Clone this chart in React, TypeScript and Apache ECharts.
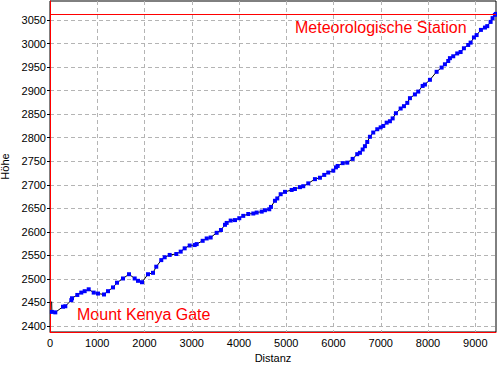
import React, { useEffect, useRef } from "react";
import * as echarts from "echarts";

const distances = [35, 40, 112, 275, 324, 451, 466, 578, 662, 734, 819, 925, 1016, 1143, 1227, 1333, 1418, 1545, 1672, 1792, 1862, 1947, 2074, 2180, 2249, 2355, 2427, 2533, 2673, 2766, 2850, 2956, 3062, 3104, 3231, 3316, 3400, 3527, 3618, 3703, 3739, 3824, 3915, 4006, 4090, 4196, 4302, 4374, 4480, 4549, 4640, 4676, 4761, 4810, 4882, 4973, 5114, 5184, 5290, 5360, 5466, 5607, 5713, 5804, 5889, 5995, 6052, 6088, 6195, 6291, 6405, 6502, 6560, 6617, 6665, 6714, 6771, 6841, 6926, 6998, 7053, 7125, 7194, 7252, 7321, 7421, 7491, 7561, 7618, 7723, 7793, 7886, 7935, 8041, 8182, 8288, 8358, 8428, 8464, 8534, 8618, 8690, 8760, 8851, 8902, 8972, 9029, 9120, 9205, 9254, 9325, 9367, 9416, 9439];
const elevations = [2452, 2430, 2429, 2441, 2442, 2455, 2459, 2466, 2471, 2474, 2478, 2471, 2469, 2467, 2474, 2482, 2492, 2501, 2510, 2501, 2496, 2493, 2510, 2513, 2526, 2540, 2546, 2551, 2553, 2558, 2565, 2571, 2572, 2574, 2581, 2586, 2588, 2598, 2604, 2615, 2619, 2624, 2625, 2629, 2634, 2638, 2639, 2641, 2643, 2646, 2648, 2653, 2666, 2671, 2680, 2685, 2689, 2691, 2695, 2697, 2703, 2712, 2715, 2721, 2726, 2730, 2737, 2740, 2746, 2747, 2755, 2765, 2768, 2775, 2782, 2791, 2802, 2811, 2818, 2822, 2825, 2832, 2835, 2841, 2852, 2862, 2867, 2874, 2884, 2892, 2898, 2910, 2913, 2923, 2940, 2949, 2956, 2963, 2969, 2973, 2979, 2982, 2990, 2997, 3002, 3013, 3018, 3029, 3034, 3037, 3046, 3054, 3061, 3063];

const xTicks = [0, 1000, 2000, 3000, 4000, 5000, 6000, 7000, 8000, 9000];
const yTicks = [2400, 2450, 2500, 2550, 2600, 2650, 2700, 2750, 2800, 2850, 2900, 2950, 3000, 3050];

const maxElevation = 3063;
const startLabel = "Mount Kenya Gate";
const endLabel = "Meteorologische Station";

export default function App() {
  const ref = useRef<HTMLDivElement>(null);
  useEffect(() => {
    document.body.style.margin = "0";
    const chart = echarts.init(ref.current!, null, { renderer: "svg" });
    const font = "Arial, 'Liberation Sans', sans-serif";
    const data = distances.map((d, i) =>
      i === 0 ? { value: [d, elevations[i]], symbol: "none" } : { value: [d, elevations[i]] }
    );
    chart.setOption({
      animation: false,
      backgroundColor: "#ffffff",
      grid: {
        left: 50,
        right: 1,
        top: 1,
        bottom: 33,
        containLabel: false,
        outerBoundsMode: "none",
        show: true,
        borderColor: "#000000",
        borderWidth: 1,
        backgroundColor: "#ffffff",
      },
      xAxis: {
        type: "value",
        min: 0,
        max: 9439,
        name: "Distanz",
        nameLocation: "middle",
        nameGap: 19,
        nameTextStyle: { color: "#000", fontSize: 11, fontFamily: font },
        axisLine: { show: true, onZero: false, lineStyle: { color: "#ff0000", width: 1 } },
        axisTick: { show: false, customValues: xTicks },
        axisLabel: {
          customValues: xTicks,
          formatter: (v: number) => String(v),
          color: "#000",
          fontSize: 11,
          fontFamily: font,
          margin: 5,
        },
        splitLine: { show: true, lineStyle: { color: "#b4b4b4", type: [4, 3], width: 1 } },
      },
      yAxis: {
        type: "value",
        min: 2387.3,
        max: 3090.4,
        name: "Höhe",
        nameLocation: "middle",
        nameGap: 37,
        nameTextStyle: { color: "#000", fontSize: 11, fontFamily: font },
        axisLine: { show: true, onZero: false, lineStyle: { color: "#ff0000", width: 1 } },
        axisTick: { show: true, inside: false, length: 3, customValues: yTicks, lineStyle: { color: "#000" } },
        axisLabel: {
          customValues: yTicks,
          formatter: (v: number) => String(v),
          color: "#000",
          fontSize: 11,
          fontFamily: font,
          margin: 4,
        },
        splitLine: { show: true, lineStyle: { color: "#b4b4b4", type: [4, 3], width: 1 } },
      },
      series: [
        {
          type: "line",
          data,
          symbol: "rect",
          symbolSize: 4,
          showAllSymbol: true,
          itemStyle: { color: "#0000ff" },
          lineStyle: { color: "#000000", width: 1 },
          markLine: {
            silent: true,
            symbol: "none",
            label: { show: false },
            lineStyle: { color: "#ff0000", width: 1, type: "solid" },
            data: [{ yAxis: maxElevation }],
          },
        },
      ],
      graphic: [
        {
          type: "text",
          x: 295,
          y: 27,
          style: { text: endLabel, fill: "#ff0000", font: `16px ${font}`, textVerticalAlign: "middle" },
        },
        {
          type: "text",
          x: 77,
          y: 314,
          style: { text: startLabel, fill: "#ff0000", font: `16px ${font}`, textVerticalAlign: "middle" },
        },
      ],
    });
    return () => chart.dispose();
  }, []);
  return <div ref={ref} style={{ position: "absolute", left: 0, top: 0, width: 497, height: 365 }} />;
}
